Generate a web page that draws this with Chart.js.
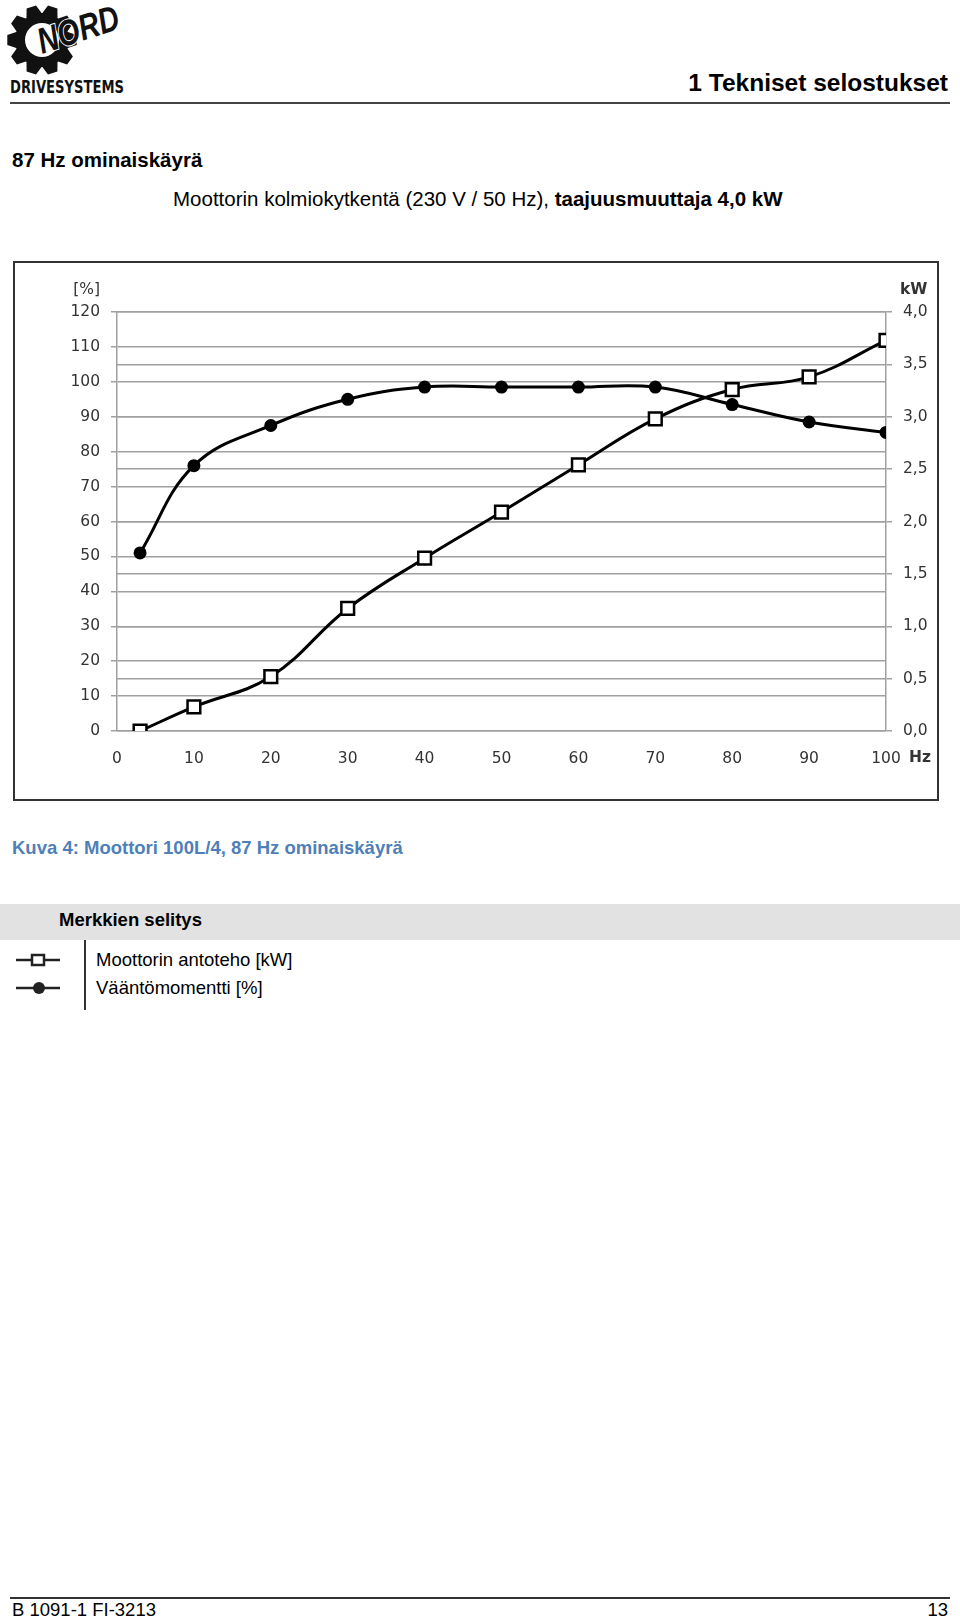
<!DOCTYPE html>
<html>
<head>
<meta charset="utf-8">
<script src="https://cdn.jsdelivr.net/npm/chart.js@4.4.1/dist/chart.umd.min.js"></script>
<style>
  body { margin: 0; width: 960px; height: 1619px; background: #fff; position: relative; overflow: hidden;
         font-family: "Liberation Sans", Arial, sans-serif; color: #000; }
  .t { position: absolute; white-space: nowrap; line-height: 1; }
  .b { font-weight: bold; }
  #frame { position: absolute; left: 13px; top: 261px; width: 922px; height: 536px; border: 2px solid #333; }
  #frame canvas { display: block; }
</style>
</head>
<body>
<svg id="logo" width="130" height="100" style="position:absolute;left:0;top:0"></svg>
<div class="t b" style="right:12px;top:71px;font-size:24.5px">1 Tekniset selostukset</div>
<div style="position:absolute;left:10px;top:102px;width:940px;height:2px;background:#444"></div>

<div class="t b" style="left:12px;top:150px;font-size:20.5px">87 Hz ominaiskäyrä</div>
<div class="t" style="left:173px;top:189px;font-size:20.5px">Moottorin kolmiokytkentä (230 V / 50 Hz), <b>taajuusmuuttaja 4,0 kW</b></div>

<div id="frame"><canvas id="chart" width="922" height="536"></canvas></div>

<div class="t b" style="left:12px;top:839px;font-size:18.5px;color:#4f7fb8">Kuva 4: Moottori 100L/4, 87 Hz ominaiskäyrä</div>

<div style="position:absolute;left:0;top:904px;width:960px;height:36px;background:#e2e2e2"></div>
<div class="t b" style="left:59px;top:911px;font-size:18.5px">Merkkien selitys</div>
<div style="position:absolute;left:84px;top:940px;width:2px;height:70px;background:#333"></div>
<svg width="70" height="80" style="position:absolute;left:0;top:940px">
  <line x1="16" y1="20" x2="60" y2="20" stroke="#222" stroke-width="2.5"/>
  <rect x="32" y="15" width="12" height="10" fill="#fff" stroke="#222" stroke-width="2.5"/>
  <line x1="16" y1="48" x2="60" y2="48" stroke="#222" stroke-width="2.5"/>
  <circle cx="39" cy="48" r="6" fill="#222"/>
</svg>
<div class="t" style="left:96px;top:951px;font-size:18.5px">Moottorin antoteho [kW]</div>
<div class="t" style="left:96px;top:979px;font-size:18.5px">Vääntömomentti [%]</div>

<div style="position:absolute;left:10px;top:1597px;width:940px;height:2px;background:#333"></div>
<div class="t" style="left:12px;top:1601px;font-size:18.5px">B 1091-1 FI-3213</div>
<div class="t" style="right:12px;top:1601px;font-size:18.5px">13</div>

<script>
// NORD logo (rough)
(function () {
    const svg = document.getElementById('logo');
    const cx = 42, cy = 40, teeth = 10, rOut = 35, rIn = 27;
    let pts = [];
    for (let i = 0; i < teeth; i++) {
        const a = (i / teeth) * Math.PI * 2;
        const w = Math.PI / teeth;
        [[a - w * 0.95, rIn], [a - w * 0.45, rOut], [a + w * 0.45, rOut], [a + w * 0.95, rIn]].forEach(p => {
            pts.push((cx + Math.cos(p[0]) * p[1]).toFixed(1) + ',' + (cy + Math.sin(p[0]) * p[1]).toFixed(1));
        });
    }
    svg.innerHTML =
        '<polygon points="' + pts.join(' ') + '" fill="#111"/>' +
        '<circle cx="' + cx + '" cy="' + cy + '" r="17" fill="#fff"/>' +
        '<text x="42" y="54" transform="rotate(-18 42 54)" font-family="Liberation Sans" font-weight="bold" font-style="italic" font-size="36" fill="#111" stroke="#fff" stroke-width="2" paint-order="stroke" textLength="84" lengthAdjust="spacingAndGlyphs">NORD</text>' +
        '<text x="10" y="93" font-family="Liberation Sans Narrow, DejaVu Sans Condensed, Liberation Sans" font-weight="bold" font-size="17" fill="#111" textLength="114" lengthAdjust="spacingAndGlyphs">DRIVESYSTEMS</text>';
})();

const freqHz = [3, 10, 20, 30, 40, 50, 60, 70, 80, 90, 100];
const torquePct = [51, 76, 87.5, 95, 98.5, 98.5, 98.5, 98.5, 93.5, 88.5, 85.5];
const powerKw = [0, 0.23, 0.52, 1.17, 1.65, 2.09, 2.54, 2.98, 3.26, 3.38, 3.73];

const gridColor = '#a0a0a0';
const tickColor = '#333333';
const tickFont = { family: 'DejaVu Sans', size: 15.5 };

// extra axis captions: [%], kW, Hz
const unitLabels = {
    id: 'unitLabels',
    afterDraw(chart) {
        const ctx = chart.ctx;
        const a = chart.chartArea;
        ctx.save();
        ctx.fillStyle = tickColor;
        ctx.textBaseline = 'middle';
        ctx.font = '15.5px "DejaVu Sans"';
        ctx.textAlign = 'right';
        ctx.fillText('[%]', a.left - 17, a.top - 22);
        ctx.font = 'bold 15.5px "DejaVu Sans"';
        ctx.textAlign = 'left';
        ctx.fillText('kW', a.right + 14, a.top - 22);
        ctx.fillText('Hz', a.right + 23, a.bottom + 27);
        ctx.restore();
    }
};

new Chart(document.getElementById('chart'), {
    type: 'line',
    data: {
        datasets: [
            {
                label: 'Vääntömomentti [%]',
                data: freqHz.map((f, i) => ({ x: f, y: torquePct[i] })),
                yAxisID: 'y',
                borderColor: '#000',
                borderWidth: 3,
                tension: 0.4,
                pointStyle: 'circle',
                pointRadius: 6.5,
                pointBackgroundColor: '#000',
                pointBorderColor: '#000',
                pointBorderWidth: 0
            },
            {
                label: 'Moottorin antoteho [kW]',
                data: freqHz.map((f, i) => ({ x: f, y: powerKw[i] })),
                yAxisID: 'y1',
                borderColor: '#000',
                borderWidth: 3,
                tension: 0.4,
                pointStyle: 'rect',
                pointRadius: 9,
                pointBackgroundColor: '#fff',
                pointBorderColor: '#000',
                pointBorderWidth: 2.5
            }
        ]
    },
    options: {
        responsive: false,
        animation: false,
        devicePixelRatio: 1,
        layout: { padding: { top: 49, left: 0, right: 0, bottom: 0 } },
        plugins: { legend: { display: false }, tooltip: { enabled: false } },
        scales: {
            x: {
                type: 'linear', min: 0, max: 100,
                afterFit: s => { s.height = 68; },
                grid: { display: false },
                border: { display: false },
                ticks: { stepSize: 10, color: tickColor, font: tickFont, padding: 11, maxRotation: 0 }
            },
            y: {
                position: 'left', min: 0, max: 120,
                afterFit: s => { s.width = 102; },
                grid: { color: gridColor, lineWidth: 1.5, tickLength: 6 },
                border: { color: gridColor, width: 1.5 },
                ticks: { stepSize: 10, color: tickColor, font: tickFont, padding: 11 }
            },
            y1: {
                position: 'right', min: 0, max: 4,
                afterFit: s => { s.width = 51; },
                grid: { color: gridColor, lineWidth: 1.5, tickLength: 6 },
                border: { color: gridColor, width: 1.5 },
                ticks: {
                    stepSize: 0.5, color: tickColor, font: tickFont, padding: 11,
                    callback: v => v.toFixed(1).replace('.', ',')
                }
            }
        }
    },
    plugins: [unitLabels]
});
</script>
</body>
</html>
